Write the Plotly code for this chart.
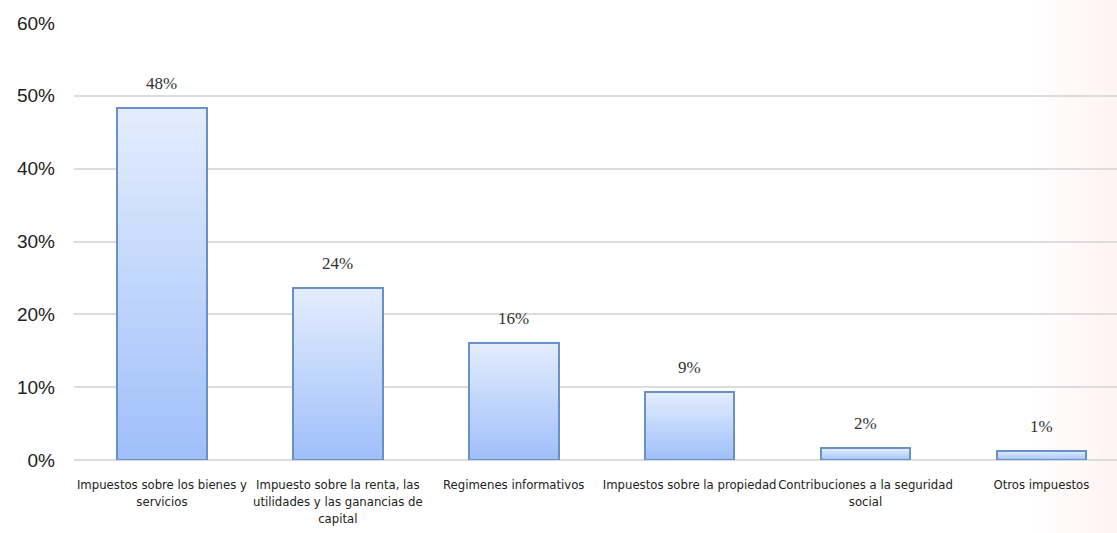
import plotly.graph_objects as go

categories = [
    "Impuestos sobre los bienes y<br>servicios",
    "Impuesto sobre la renta, las<br>utilidades y las ganancias de<br>capital",
    "Regimenes informativos",
    "Impuestos sobre la propiedad",
    "Contribuciones a la seguridad<br>social",
    "Otros impuestos",
]
values = [48.3, 23.6, 16.1, 9.3, 1.6, 1.3]
labels = ["48%", "24%", "16%", "9%", "2%", "1%"]
yticks = [0, 10, 20, 30, 40, 50, 60]
yticklabels = ["0%", "10%", "20%", "30%", "40%", "50%", "60%"]

top_rgb = (226, 236, 253)
bot_rgb = (160, 192, 250)
N = 24

fig = go.Figure()
xs = list(range(len(categories)))
for i in range(N):
    t = i / (N - 1)
    c = tuple(round(bot_rgb[k] + (top_rgb[k] - bot_rgb[k]) * t) for k in range(3))
    fig.add_trace(go.Bar(
        x=xs, y=[v / N for v in values],
        marker=dict(color="rgb(%d,%d,%d)" % c, line=dict(width=0)),
        width=0.51, hoverinfo="skip", showlegend=False,
    ))
fig.add_trace(go.Bar(
    x=xs, y=values, base=[0] * len(values),
    marker=dict(color="rgba(0,0,0,0)", line=dict(color="#6a90c8", width=2)),
    width=0.51, showlegend=False,
))
for x, v, lab in zip(xs, values, labels):
    fig.add_annotation(x=x, y=v, text=lab, showarrow=False, yanchor="bottom",
                       yshift=13, font=dict(family="Liberation Serif, serif", size=17, color="#333"))

# faint warm tint at the right edge of the slide
M = 12
for j in range(M):
    x0 = 0.92 + 0.08 * j / M
    fig.add_shape(type="rect", xref="paper", yref="paper", x0=x0, x1=1.0, y0=-0.2, y1=1.06,
                  fillcolor="rgb(252,228,205)", opacity=0.02, line=dict(width=0), layer="below")

fig.update_layout(
    barmode="stack",
    width=1117, height=533,
    margin=dict(l=74, r=0, t=23, b=73, autoexpand=False),
    plot_bgcolor="white", paper_bgcolor="white",
    bargap=0.49,
)
fig.update_xaxes(
    tickvals=xs, ticktext=categories, range=[-0.5, 5.43], tickangle=0, automargin=False,
    tickfont=dict(family="Liberation Sans Narrow, DejaVu Sans Condensed, sans-serif", size=13, color="#222"),
    showgrid=False, showline=False, ticks="", zeroline=False, ticklabelstandoff=15,
)
fig.update_yaxes(
    range=[0, 60], tickvals=yticks, ticktext=yticklabels, automargin=False,
    tickfont=dict(family="Liberation Sans, Arial, sans-serif", size=19, color="#222"),
    showgrid=True, gridcolor="#dcdcdc", gridwidth=2, zeroline=True, zerolinecolor="#dcdcdc", zerolinewidth=2,
    ticks="", ticklabelstandoff=18,
)
fig.write_html("out.html")
